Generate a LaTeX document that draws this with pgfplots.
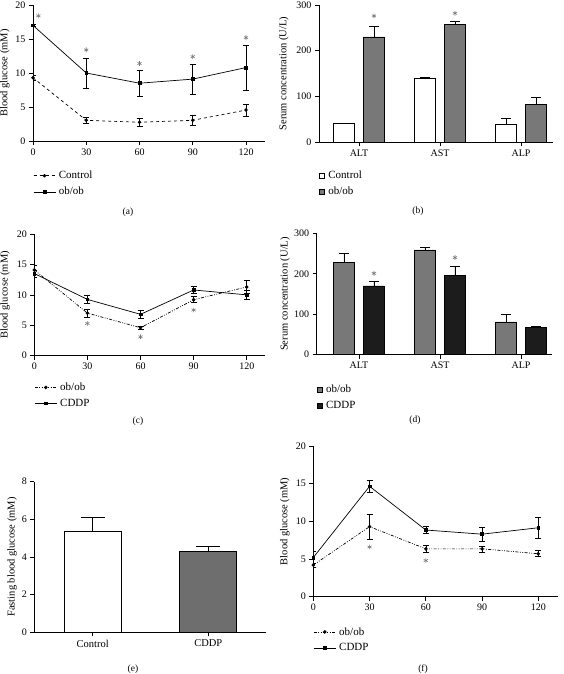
\documentclass[border=0pt]{standalone}
\usepackage{pgfplots}
\pgfplotsset{compat=1.18}
\usepackage{fontspec}
\setmainfont{Liberation Serif}
\definecolor{barg}{HTML}{787878}
\definecolor{bark}{HTML}{1C1C1C}
\definecolor{astc}{HTML}{7A7A7A}
\pgfplotsset{
  panel/.style={
    scale only axis, anchor=south west,
    axis lines=left, axis line style={-, line width=0.7pt},
    tick align=outside, major tick length=4pt,
    tick style={line width=0.7pt, black},
    /pgf/number format/assume math mode=true,
    tick label style={font=\fontsize{10}{11}\selectfont},
    label style={font=\fontsize{10.5}{12}\selectfont},
    legend style={font=\fontsize{11}{12}\selectfont, draw=none, fill=none,
      at={(axis description cs:0,0)}, anchor=north west, inner sep=0pt,
      row sep=5pt, nodes={inner sep=1pt}},
    legend cell align=left,
  },
  linelegend/.style={legend image code/.code={\draw[mark repeat=2,mark phase=2,##1] plot coordinates {(0pt,0pt) (11pt,0pt) (22pt,0pt)};},
    legend style={/tikz/every odd column/.append style={column sep=2pt}}},
  barlegend/.style={legend image code/.code={\draw[##1, line width=0.5pt] (0pt,-2.6pt) rectangle (5.2pt,2.6pt);},
    legend style={/tikz/every odd column/.append style={column sep=2.5pt}}},
  ebline/.style={error bars/.cd, y dir=both, y explicit, error bar style={line width=0.6pt, solid}, error mark options={rotate=90, mark size=3pt, line width=0.6pt}},
  ebbar/.style={error bars/.cd, y dir=plus, y explicit, error bar style={line width=0.6pt, solid}, error mark options={rotate=90, mark size=5pt, line width=0.6pt}},
  ebbarwide/.style={error bars/.cd, y dir=plus, y explicit, error bar style={line width=0.6pt, solid}, error mark options={rotate=90, mark size=12pt, line width=0.6pt}},
  ast/.style={only marks, mark=asterisk, mark size=2.4pt, mark options={line width=0.6pt}, color=astc, forget plot},
}
\begin{document}
\begin{tikzpicture}
\useasboundingbox (0,0) rectangle (563pt,-674pt);

% ---------------- (a)
\begin{axis}[panel, linelegend, at={(33pt,-141pt)}, width=232pt, height=136pt,
  xmin=0, xmax=130.7, ymin=0, ymax=20, xtick={0,30,60,90,120}, ytick={0,5,10,15,20},
  ylabel={Blood glucose (mM)}, ylabel style={at={(axis description cs:-0.121,0.5)}, anchor=center},
  legend style={yshift=-29pt}]
\addplot[black, line width=0.7pt, dashed, mark=*, mark size=1.4pt, mark options={solid}, ebline]
  coordinates {(0,9.3) +- (0,0.3) (30,3.05) +- (0,0.4) (60,2.75) +- (0,0.6) (90,3.05) +- (0,0.7) (120,4.55) +- (0,0.9)};
\addlegendentry{Control}
\addplot[black, line width=0.7pt, mark=square*, mark size=1.4pt, ebline]
  coordinates {(0,17.0) +- (0,0.2) (30,10.0) +- (0,2.2) (60,8.5) +- (0,1.9) (90,9.1) +- (0,2.25) (120,10.8) +- (0,3.3)};
\addlegendentry{ob/ob}
\addplot[ast] coordinates {(3,18.4) (30,13.4) (60,11.4) (90,12.4) (120,15.2)};
\end{axis}

% ---------------- (b)
\begin{axis}[panel, ybar, bar width=21pt, barlegend, at={(319pt,-142pt)}, width=234pt, height=137pt,
  xmin=-0.494, xmax=2.395, ymin=0, ymax=300, xtick={0,1,2}, xticklabels={ALT,AST,ALP}, ytick={0,100,200,300},
  ylabel={Serum concentration (U/L)}, ylabel style={at={(axis description cs:-0.15,0.5)}, anchor=center},
  legend style={yshift=-28pt, xshift=0pt}]
\addplot[bar shift=-15pt, fill=white, draw=black, line width=0.7pt, ebbar]
  coordinates {(0,40) +- (0,2) (1,139) +- (0,3) (2,39) +- (0,13)};
\addlegendentry{Control}
\addplot[bar shift=15pt, fill=barg, draw=black, line width=0.7pt, ebbar]
  coordinates {(0,230) +- (0,24) (1,258) +- (0,7) (2,82) +- (0,16)};
\addlegendentry{ob/ob}
\addplot[ast] coordinates {(0.185,276) (1.185,282)};
\end{axis}

% ---------------- (c)
\begin{axis}[panel, linelegend, at={(34.3pt,-355.7pt)}, width=230.7pt, height=121.7pt,
  xmin=0, xmax=130.3, ymin=0, ymax=20, xtick={0,30,60,90,120}, ytick={0,5,10,15,20},
  ylabel={Blood glucose (mM)}, ylabel style={at={(axis description cs:-0.126,0.5)}, anchor=center},
  legend style={yshift=-26pt}]
\addplot[black, line width=0.7pt, dash pattern=on 3pt off 1.5pt on 0.8pt off 1.5pt on 0.8pt off 1.5pt, mark=*, mark size=1.4pt, mark options={solid}, ebline]
  coordinates {(0,14.1) +- (0,0.7) (30,7.0) +- (0,0.7) (60,4.6) +- (0,0.3) (90,9.2) +- (0,0.5) (120,11.3) +- (0,1.1)};
\addlegendentry{ob/ob}
\addplot[black, line width=0.7pt, mark=square*, mark size=1.4pt, ebline]
  coordinates {(0,13.5) +- (0,0.6) (30,9.25) +- (0,0.7) (60,6.8) +- (0,0.7) (90,10.8) +- (0,0.6) (120,10.0) +- (0,0.7)};
\addlegendentry{CDDP}
\addplot[ast] coordinates {(30,5.3) (60,3.1) (90,7.5)};
\end{axis}

% ---------------- (d)
\begin{axis}[panel, ybar, bar width=21pt, barlegend, at={(316.7pt,-354.7pt)}, width=235pt, height=121.4pt,
  xmin=-0.522, xmax=2.379, ymin=0, ymax=300, xtick={0,1,2}, xticklabels={ALT,AST,ALP}, ytick={0,100,200,300},
  ylabel={Serum concentration (U/L)}, ylabel style={at={(axis description cs:-0.135,0.5)}, anchor=center},
  legend style={yshift=-29pt, xshift=0pt}]
\addplot[bar shift=-15pt, fill=barg, draw=black, line width=0.7pt, ebbar]
  coordinates {(0,229) +- (0,21) (1,259) +- (0,6) (2,81) +- (0,18)};
\addlegendentry{ob/ob}
\addplot[bar shift=15pt, fill=bark, draw=black, line width=0.7pt, ebbar]
  coordinates {(0,170) +- (0,11) (1,196) +- (0,22) (2,68) +- (0,3)};
\addlegendentry{CDDP}
\addplot[ast] coordinates {(0.185,201) (1.185,240)};
\end{axis}

% ---------------- (e)
\begin{axis}[panel, ybar, bar width=57pt, at={(34.3pt,-632.3pt)}, width=231.4pt, height=150.6pt,
  xmin=-0.505, xmax=1.497, ymin=0, ymax=8, xtick={0,1}, xticklabels={Control,CDDP}, ytick={0,2,4,6,8},
  xticklabel style={font=\fontsize{10.5}{12}\selectfont},
  ylabel={Fasting blood glucose (mM)}, ylabel style={at={(axis description cs:-0.096,0.5)}, anchor=center}]
\addplot[bar shift=0pt, fill=white, draw=black, line width=0.7pt, ebbarwide]
  coordinates {(0,5.38) +- (0,0.72)};
\addplot[bar shift=0pt, fill=barg!92!black, draw=black, line width=0.7pt, ebbarwide]
  coordinates {(1,4.32) +- (0,0.27)};
\end{axis}

% ---------------- (f)
\begin{axis}[panel, linelegend, at={(313.3pt,-596.7pt)}, width=244.7pt, height=150.7pt,
  xmin=0, xmax=130.5, ymin=0, ymax=20, xtick={0,30,60,90,120}, ytick={0,5,10,15,20},
  ylabel={Blood glucose (mM)}, ylabel style={at={(axis description cs:-0.116,0.5)}, anchor=center},
  legend style={yshift=-29.5pt}]
\addplot[black, line width=0.7pt, dash pattern=on 3pt off 1.5pt on 0.8pt off 1.5pt on 0.8pt off 1.5pt, mark=*, mark size=1.4pt, mark options={solid}, ebline]
  coordinates {(0,4.2) +- (0,0.3) (30,9.3) +- (0,1.65) (60,6.35) +- (0,0.5) (90,6.35) +- (0,0.4) (120,5.7) +- (0,0.4)};
\addlegendentry{ob/ob}
\addplot[black, line width=0.7pt, mark=square*, mark size=1.4pt, ebline]
  coordinates {(0,5.2) +- (0,0.8) (30,14.65) +- (0,0.8) (60,8.85) +- (0,0.5) (90,8.3) +- (0,0.95) (120,9.15) +- (0,1.45)};
\addlegendentry{CDDP}
\addplot[ast] coordinates {(30,6.6) (60,4.8)};
\end{axis}

% panel labels
\begin{scope}[every node/.style={font=\fontsize{9.5}{11}\selectfont}]
\node at (128pt,-212pt) {(a)};
\node at (418pt,-211pt) {(b)};
\node at (138pt,-421pt) {(c)};
\node at (415pt,-420pt) {(d)};
\node at (133pt,-669pt) {(e)};
\node at (423pt,-669pt) {(f)};
\end{scope}
\end{tikzpicture}
\end{document}
